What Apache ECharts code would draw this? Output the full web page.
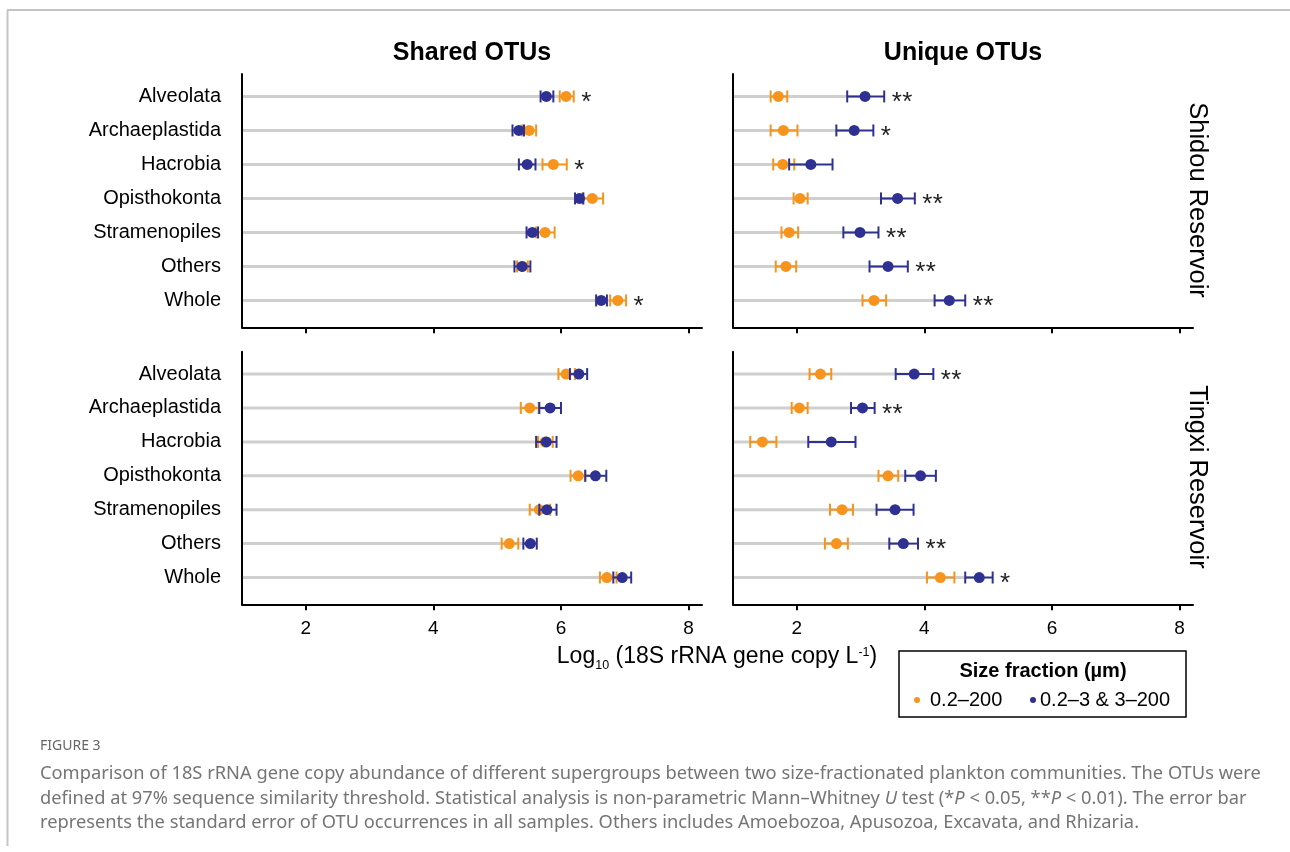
<!DOCTYPE html>
<html>
<head>
<meta charset="utf-8">
<script src="https://cdn.jsdelivr.net/npm/echarts@6/dist/echarts.min.js"></script>
<style>
html,body{margin:0;padding:0;background:#fff;}
#chart{width:1290px;height:852px;}
</style>
</head>
<body>
<div id="chart"></div>
<script>
// ---- data ----
const categories = ['Alveolata', 'Archaeplastida', 'Hacrobia', 'Opisthokonta', 'Stramenopiles', 'Others', 'Whole'];
const xTicks = [2, 4, 6, 8];
const panelTitles = ['Shared OTUs', 'Unique OTUs'];
const reservoirs = ['Shidou Reservoir', 'Tingxi Reservoir'];
const seriesNames = ['0.2–200', '0.2–3 & 3–200'];

// [mean, low, high]  (log10 copies)
const shidouSharedUnfrac = [[6.08,5.98,6.20],[5.50,5.39,5.61],[5.88,5.71,6.09],[6.49,6.34,6.66],[5.75,5.61,5.90],[5.40,5.31,5.48],[6.89,6.77,7.02]];
const shidouSharedFrac   = [[5.77,5.68,5.88],[5.34,5.24,5.42],[5.47,5.34,5.60],[6.29,6.22,6.35],[5.55,5.46,5.64],[5.39,5.27,5.52],[6.63,6.55,6.72]];
const shidouSharedSig    = ['*','','*','','','','*'];

const shidouUniqueUnfrac = [[1.71,1.59,1.85],[1.79,1.59,2.01],[1.78,1.63,1.96],[2.05,1.95,2.17],[1.88,1.76,2.02],[1.83,1.67,1.99],[3.21,3.03,3.40]];
const shidouUniqueFrac   = [[3.07,2.79,3.37],[2.90,2.62,3.20],[2.22,1.88,2.56],[3.58,3.32,3.85],[2.99,2.73,3.28],[3.43,3.14,3.74],[4.39,4.16,4.64]];
const shidouUniqueSig    = ['**','*','','**','**','**','**'];

const tingxiSharedUnfrac = [[6.08,5.96,6.22],[5.51,5.37,5.65],[5.75,5.64,5.87],[6.27,6.15,6.38],[5.66,5.51,5.83],[5.19,5.07,5.33],[6.72,6.61,6.87]];
const tingxiSharedFrac   = [[6.28,6.14,6.41],[5.83,5.66,6.00],[5.77,5.61,5.93],[6.54,6.38,6.71],[5.78,5.66,5.93],[5.52,5.41,5.62],[6.96,6.82,7.10]];
const tingxiSharedSig    = ['','','','','','',''];

const tingxiUniqueUnfrac = [[2.37,2.20,2.54],[2.04,1.92,2.17],[1.46,1.27,1.68],[3.43,3.28,3.59],[2.71,2.52,2.88],[2.62,2.44,2.80],[4.25,4.04,4.47]];
const tingxiUniqueFrac   = [[3.84,3.55,4.14],[3.03,2.85,3.22],[2.54,2.18,2.92],[3.94,3.70,4.18],[3.54,3.25,3.83],[3.67,3.45,3.90],[4.86,4.64,5.07]];
const tingxiUniqueSig    = ['**','**','','','','**','*'];

// ---- styling ----
const ORANGE = '#F7941D';
const BLUE = '#2E3192';
const GRAY = '#CFCFCF';
const FONT = '"Liberation Sans", Arial, Helvetica, sans-serif';
const XMIN = 1, XMAX = 8.21;
const YMIN = -0.66, YMAX = 6.79;

const panels = [
  {unfrac: shidouSharedUnfrac, frac: shidouSharedFrac, sig: shidouSharedSig, grid: {left: 242, top: 74, width: 460, height: 253.3}, yLabels: true, xLabels: false},
  {unfrac: shidouUniqueUnfrac, frac: shidouUniqueFrac, sig: shidouUniqueSig, grid: {left: 733, top: 74, width: 460, height: 253.3}, yLabels: false, xLabels: false},
  {unfrac: tingxiSharedUnfrac, frac: tingxiSharedFrac, sig: tingxiSharedSig, grid: {left: 242, top: 351.7, width: 460, height: 252.6}, yLabels: true, xLabels: true},
  {unfrac: tingxiUniqueUnfrac, frac: tingxiUniqueFrac, sig: tingxiUniqueSig, grid: {left: 733, top: 351.7, width: 460, height: 252.6}, yLabels: false, xLabels: true}
];

const grids = [], xAxes = [], yAxes = [], series = [];

function errRender(color) {
  return function (params, api) {
    const y = api.value(1);
    const p0 = api.coord([api.value(2), y]);
    const p1 = api.coord([api.value(3), y]);
    const h = 6;
    const style = {stroke: color, lineWidth: 2};
    return {type: 'group', children: [
      {type: 'line', shape: {x1: p0[0], y1: p0[1], x2: p1[0], y2: p1[1]}, style: style},
      {type: 'line', shape: {x1: p0[0], y1: p0[1] - h, x2: p0[0], y2: p0[1] + h}, style: style},
      {type: 'line', shape: {x1: p1[0], y1: p1[1] - h, x2: p1[0], y2: p1[1] + h}, style: style}
    ]};
  };
}

function stemRender(params, api) {
  const y = api.value(1);
  const p0 = api.coord([XMIN, y]);
  const p1 = api.coord([api.value(0), y]);
  return {type: 'line', shape: {x1: p0[0] + 1, y1: p0[1], x2: p1[0], y2: p1[1]}, style: {stroke: GRAY, lineWidth: 3}};
}

function starRender(params, api) {
  const y = api.value(1);
  const n = api.value(2);
  const p = api.coord([api.value(0), y]);
  const kids = [];
  for (let k = 0; k < n; k++) {
    kids.push({type: 'text', x: p[0] + 12.5 + k * 10.5, y: p[1] + 6.5,
      style: {text: '*', fontSize: 26, fontFamily: FONT, fill: '#222', align: 'center', verticalAlign: 'middle'}});
  }
  return {type: 'group', children: kids};
}

panels.forEach(function (pn, gi) {
  grids.push(pn.grid);
  xAxes.push({
    type: 'value', gridIndex: gi, min: XMIN, max: XMAX,
    splitLine: {show: false},
    axisLine: {show: true, onZero: false, lineStyle: {color: '#000', width: 2}},
    axisTick: {show: true, customValues: xTicks, length: 6, lineStyle: {color: '#000', width: 2}},
    axisLabel: {show: pn.xLabels, customValues: xTicks, fontSize: 19, color: '#000', fontFamily: FONT, margin: 15}
  });
  yAxes.push({
    type: 'value', gridIndex: gi, min: YMIN, max: YMAX, inverse: true,
    splitLine: {show: false},
    axisLine: {show: true, onZero: false, lineStyle: {color: '#000', width: 2}},
    axisTick: {show: false},
    axisLabel: {show: pn.yLabels, customValues: [0,1,2,3,4,5,6], fontSize: 20, color: '#000', fontFamily: FONT, margin: 21,
      formatter: function (v) { return categories[Math.round(v)] || ''; }}
  });
  const stemData = categories.map(function (c, i) { return [Math.max(pn.unfrac[i][0], pn.frac[i][0]), i]; });
  const starData = categories.map(function (c, i) {
    return [Math.max(pn.unfrac[i][2], pn.frac[i][2]), i, pn.sig[i].length];
  }).filter(function (d) { return d[2] > 0; });
  series.push({type: 'custom', xAxisIndex: gi, yAxisIndex: gi, z: 1, clip: false, silent: true,
    renderItem: stemRender, data: stemData, encode: {x: 0, y: 1}});
  [[pn.unfrac, ORANGE, seriesNames[0]], [pn.frac, BLUE, seriesNames[1]]].forEach(function (s, si) {
    series.push({type: 'custom', name: s[2], xAxisIndex: gi, yAxisIndex: gi, z: 2 + si * 2, clip: false, silent: true,
      renderItem: errRender(s[1]),
      data: s[0].map(function (d, i) { return [d[0], i, d[1], d[2]]; }),
      encode: {x: [0, 2, 3], y: 1}});
    series.push({type: 'scatter', name: s[2], xAxisIndex: gi, yAxisIndex: gi, z: 3 + si * 2, silent: true,
      symbol: 'circle', symbolSize: 11, itemStyle: {color: s[1], opacity: 1},
      data: s[0].map(function (d, i) { return [d[0], i]; })});
  });
  series.push({type: 'custom', xAxisIndex: gi, yAxisIndex: gi, z: 7, clip: false, silent: true,
    renderItem: starRender, data: starData, encode: {x: 0, y: 1}});
});

const CAP_FONT = '"Noto Sans", "Open Sans", sans-serif';
const capColor = '#757575';
const capRich = {
  n: {fontSize: 18.3, fontFamily: CAP_FONT, fill: capColor},
  i: {fontSize: 18.3, fontFamily: CAP_FONT, fill: capColor, fontStyle: 'italic'}
};

const graphics = [
  // frame lines
  {type: 'line', shape: {x1: 7, y1: 10, x2: 1290, y2: 10}, style: {stroke: '#C4C4C4', lineWidth: 2}},
  {type: 'line', shape: {x1: 7.5, y1: 10, x2: 7.5, y2: 846}, style: {stroke: '#C4C4C4', lineWidth: 2}},
  // panel titles
  {type: 'text', x: 472, y: 53, style: {text: panelTitles[0], fontSize: 25, fontWeight: 'bold', fontFamily: FONT, fill: '#000', align: 'center', verticalAlign: 'middle'}},
  {type: 'text', x: 963, y: 53, style: {text: panelTitles[1], fontSize: 25, fontWeight: 'bold', fontFamily: FONT, fill: '#000', align: 'center', verticalAlign: 'middle'}},
  // reservoir strips
  {type: 'text', x: 1197, y: 200, rotation: -Math.PI / 2, style: {text: reservoirs[0], fontSize: 25.5, fontFamily: FONT, fill: '#000', align: 'center', verticalAlign: 'middle'}},
  {type: 'text', x: 1197, y: 477, rotation: -Math.PI / 2, style: {text: reservoirs[1], fontSize: 25.5, fontFamily: FONT, fill: '#000', align: 'center', verticalAlign: 'middle'}},
  // x axis title
  {type: 'text', x: 717, y: 657, style: {
    text: '{n|Log}{sub|10}{n| (18S rRNA gene copy L}{sup|-1}{n|)}',
    align: 'center', verticalAlign: 'middle',
    rich: {
      n: {fontSize: 23, fontFamily: FONT, fill: '#000', lineHeight: 26},
      sub: {fontSize: 12.5, fontFamily: FONT, fill: '#000', verticalAlign: 'bottom', lineHeight: 12, padding: [0, 0, -2, 0]},
      sup: {fontSize: 12.5, fontFamily: FONT, fill: '#000', verticalAlign: 'top', lineHeight: 12, padding: [2, 0, 0, 0]}
    }}},
  // legend box
  {type: 'rect', shape: {x: 899, y: 651, width: 287, height: 66}, style: {fill: '#fff', stroke: '#000', lineWidth: 1.5}},
  {type: 'text', x: 1043, y: 671, style: {text: 'Size fraction (µm)', fontSize: 20, fontWeight: 'bold', fontFamily: FONT, fill: '#000', align: 'center', verticalAlign: 'middle'}},
  {type: 'circle', shape: {cx: 917, cy: 700, r: 3}, style: {fill: ORANGE}},
  {type: 'text', x: 930, y: 700, style: {text: seriesNames[0], fontSize: 20, fontFamily: FONT, fill: '#000', align: 'left', verticalAlign: 'middle'}},
  {type: 'circle', shape: {cx: 1033, cy: 700, r: 3}, style: {fill: BLUE}},
  {type: 'text', x: 1040, y: 700, style: {text: seriesNames[1], fontSize: 20, fontFamily: FONT, fill: '#000', align: 'left', verticalAlign: 'middle'}},
  // caption
  {type: 'text', x: 40, y: 746, style: {text: 'FIGURE 3', fontSize: 14, fontFamily: CAP_FONT, fill: '#666', align: 'left', verticalAlign: 'middle'}},
  {type: 'text', x: 40, y: 774, style: {text: '{n|Comparison of 18S rRNA gene copy abundance of different supergroups between two size-fractionated plankton communities. The OTUs were}', rich: capRich, align: 'left', verticalAlign: 'middle'}},
  {type: 'text', x: 40, y: 799, style: {text: '{n|defined at 97% sequence similarity threshold. Statistical analysis is non-parametric Mann–Whitney }{i|U}{n| test (*}{i|P}{n| < 0.05, **}{i|P}{n| < 0.01). The error bar}', rich: capRich, align: 'left', verticalAlign: 'middle'}},
  {type: 'text', x: 40, y: 823, style: {text: '{n|represents the standard error of OTU occurrences in all samples. Others includes Amoebozoa, Apusozoa, Excavata, and Rhizaria.}', rich: capRich, align: 'left', verticalAlign: 'middle'}}
];

const chart = echarts.init(document.getElementById('chart'), null, {renderer: 'canvas'});
chart.setOption({
  backgroundColor: '#fff',
  animation: false,
  grid: grids,
  xAxis: xAxes,
  yAxis: yAxes,
  series: series,
  graphic: graphics
});
</script>
</body>
</html>
